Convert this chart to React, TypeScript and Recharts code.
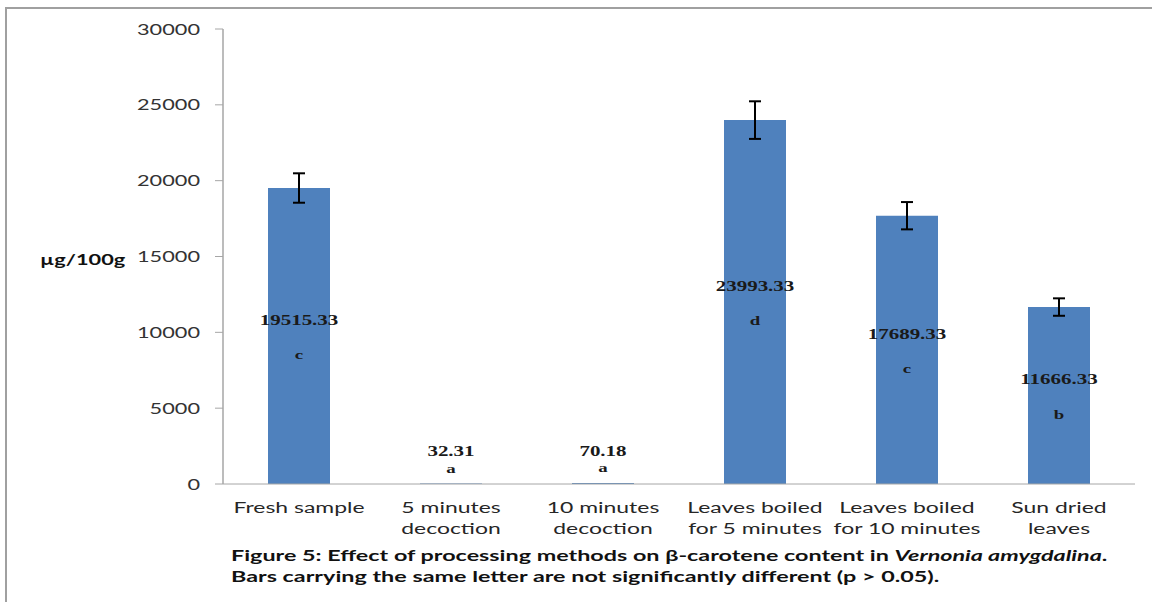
import React from "react";
import {
  BarChart,
  Bar,
  XAxis,
  YAxis,
  ErrorBar,
} from "recharts";

// Treatments, in the order they appear along the axis ("\n" marks a line break)
const categories = [
  "Fresh sample",
  "5 minutes\ndecoction",
  "10 minutes\ndecoction",
  "Leaves boiled\nfor 5 minutes",
  "Leaves boiled\nfor 10 minutes",
  "Sun dried\nleaves",
];

// beta-carotene, µg/100g
const betaCarotene = [19515.33, 32.31, 70.18, 23993.33, 17689.33, 11666.33];
// standard deviation (none shown for the decoctions)
const errors = [970, null, null, 1240, 900, 575];
// significance groups
const letters = ["c", "a", "a", "d", "c", "b"];

const yTicks = [0, 5000, 10000, 15000, 20000, 25000, 30000];
const edgeTicks = [0, 1, 2, 3, 4, 5, 6];

const data = categories.map((name, i) => ({
  name,
  value: betaCarotene[i],
  err: errors[i],
}));

// the old export was stretched sideways, so the text is too
const STRETCH = 1.45;
const AXIS_GREY = "#a6a6a6";

function YTick(props: any) {
  const { x, y, payload } = props;
  return (
    <g transform={`translate(${x},${y})`}>
      <text
        transform={`scale(${STRETCH},1)`}
        textAnchor="end"
        dominantBaseline="central"
        fontFamily="Lato"
        fontSize={15}
        fill="#333"
      >
        {payload.value}
      </text>
    </g>
  );
}

function CategoryTick(props: any) {
  const { x, y, payload } = props;
  const lines = String(payload.value).split("\n");
  return (
    <g transform={`translate(${x},${y})`}>
      {lines.map((line, i) => (
        <text
          key={i}
          y={23 + i * 21}
          transform={`scale(1.53,1)`}
          textAnchor="middle"
          dominantBaseline="central"
          fontFamily="Lato"
          fontSize={15}
          fill="#262626"
        >
          {line}
        </text>
      ))}
    </g>
  );
}

function BarLabel(props: any) {
  const vb = props.viewBox ?? props;
  const { x, y, width, height } = vb;
  const i = props.index;
  const cx = x + width / 2;
  const mid = y + height / 2;
  // very short bars get their labels above the bar
  const numY = height > 40 ? mid - 16 : y - 32;
  const letY = height > 40 ? mid + 19 : y - 15;
  return (
    <g>
      <g transform={`translate(${cx},${numY})`}>
        <text
          transform={`scale(1.5,1)`}
          textAnchor="middle"
          dominantBaseline="central"
          fontFamily="Liberation Serif"
          fontWeight="bold"
          fontSize={14}
          fill="#1a1a1a"
        >
          {betaCarotene[i].toFixed(2)}
        </text>
      </g>
      <g transform={`translate(${cx},${letY})`}>
        <text
          transform={`scale(${STRETCH},1)`}
          textAnchor="middle"
          dominantBaseline="central"
          fontFamily="Liberation Serif"
          fontWeight="bold"
          fontSize={13}
          fill="#1a1a1a"
        >
          {letters[i]}
        </text>
      </g>
    </g>
  );
}

export default function App() {
  return (
    <div
      style={{
        position: "absolute",
        left: 0,
        top: 0,
        width: 1152,
        height: 602,
        overflow: "hidden",
        background: "#fff",
      }}
    >
      <div
        style={{
          position: "absolute",
          left: 5,
          top: 7,
          width: 1300,
          height: 700,
          borderTop: "2px solid #a0a0a0",
          borderLeft: "2px solid #a0a0a0",
        }}
      />
      <BarChart
        width={1152}
        height={602}
        data={data}
        margin={{ top: 29, right: 17, bottom: 58, left: 123 }}
      >
        <XAxis
          xAxisId="edge"
          type="number"
          domain={[0, 6]}
          ticks={edgeTicks}
          tick={false}
          tickSize={5}
          tickLine={{ stroke: AXIS_GREY }}
          axisLine={false}
          height={0}
        />
        <XAxis
          xAxisId="cat"
          dataKey="name"
          interval={0}
          tickSize={0}
          tickMargin={0}
          tickLine={false}
          axisLine={{ stroke: AXIS_GREY }}
          tick={<CategoryTick />}
          height={60}
        />
        <YAxis
          domain={[0, 30000]}
          ticks={yTicks}
          width={100}
          tickSize={8}
          tickMargin={15}
          tickLine={{ stroke: AXIS_GREY }}
          axisLine={{ stroke: AXIS_GREY, strokeWidth: 1.5 }}
          tick={<YTick />}
        />
        <Bar
          xAxisId="cat"
          dataKey="value"
          fill="#4f81bd"
          barSize={62}
          isAnimationActive={false}
          label={<BarLabel />}
        >
          <ErrorBar
            dataKey="err"
            width={6}
            stroke="#000"
            strokeWidth={2}
            isAnimationActive={false}
          />
        </Bar>
      </BarChart>
      <div
        style={{
          position: "absolute",
          left: 40,
          top: 249,
          fontFamily: "Lato",
          fontWeight: "bold",
          fontSize: 15,
          lineHeight: "20px",
          color: "#111",
          whiteSpace: "nowrap",
          transform: `scaleX(${STRETCH})`,
          transformOrigin: "left top",
        }}
      >
        µg/100g
      </div>
      <div
        style={{
          position: "absolute",
          left: 231,
          top: 545,
          fontFamily: "Lato",
          fontWeight: "bold",
          fontSize: 15,
          lineHeight: "21px",
          color: "#111",
          whiteSpace: "nowrap",
          transform: "scaleX(1.555)",
          transformOrigin: "left top",
        }}
      >
        Figure 5: Effect of processing methods on β-carotene content in{" "}
        <i>Vernonia amygdalina</i>.
        <br />
        Bars carrying the same letter are not significantly different (p &gt; 0.05).
      </div>
    </div>
  );
}
